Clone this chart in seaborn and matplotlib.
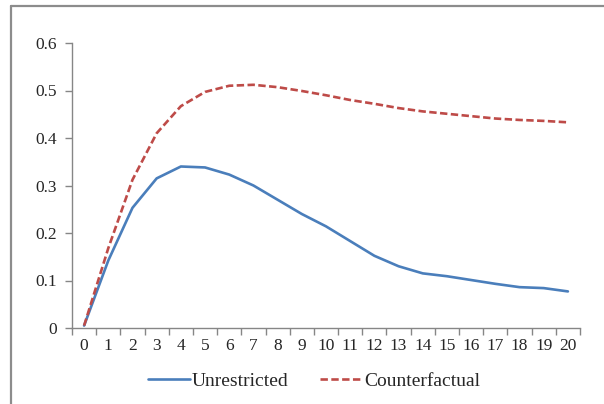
import numpy as np
import pandas as pd
import seaborn as sns
import matplotlib.pyplot as plt
from matplotlib.lines import Line2D

periods = list(range(21))
unrestricted = [0.005, 0.142, 0.253, 0.315, 0.340, 0.338, 0.323, 0.300, 0.270, 0.240,
                0.214, 0.183, 0.152, 0.130, 0.115, 0.109, 0.101, 0.093, 0.086, 0.084, 0.077]
counterfactual = [0.005, 0.168, 0.312, 0.410, 0.467, 0.497, 0.510, 0.512, 0.507, 0.499,
                  0.490, 0.480, 0.472, 0.463, 0.456, 0.451, 0.446, 0.441, 0.438, 0.436, 0.433]
y_ticks = [0, 0.1, 0.2, 0.3, 0.4, 0.5, 0.6]
y_labels = ['0', '0.1', '0.2', '0.3', '0.4', '0.5', '0.6']

df = pd.DataFrame({'period': periods * 2,
                   'value': unrestricted + counterfactual,
                   'series': ['Unrestricted'] * 21 + ['Counterfactual'] * 21})

sns.set_theme(style='white')
plt.rcParams['font.family'] = ['Liberation Serif', 'DejaVu Serif']

fig = plt.figure(figsize=(6.04, 4.04), dpi=100)
ax = fig.add_axes([72 / 604, 1 - 328 / 404, (580 - 72) / 604, (328 - 43) / 404])

sns.lineplot(data=df, x='period', y='value', hue='series', style='series',
             palette={'Unrestricted': '#4A7EBB', 'Counterfactual': '#BE4B48'},
             dashes={'Unrestricted': '', 'Counterfactual': (2.8, 1.3)},
             linewidth=1.9, ax=ax, legend=False)

ax.set_xlim(-0.5, 20.5)
ax.set_ylim(0, 0.6)
ax.set_xlabel('')
ax.set_ylabel('')

# category style axis: ticks between categories, labels under centres
ax.set_xticks(np.arange(-0.5, 21, 1))
ax.set_xticklabels([])
ax.set_xticks(periods, minor=True)
ax.set_xticklabels([str(p) for p in periods], minor=True)
ax.tick_params(axis='x', which='major', direction='out', length=5, width=1, color='#868686', bottom=True)
ax.tick_params(axis='x', which='minor', length=0, pad=7, labelsize=12.5, labelcolor='#262626')
ax.set_yticks(y_ticks)
ax.set_yticklabels(y_labels)
ax.tick_params(axis='y', direction='out', length=5, width=1, color='#868686', left=True,
               pad=6, labelsize=12.5, labelcolor='#262626')

sns.despine(ax=ax)
for s in ['left', 'bottom']:
    ax.spines[s].set_color('#868686')
    ax.spines[s].set_linewidth(1)

handles = [Line2D([], [], color='#4A7EBB', lw=1.9),
           Line2D([], [], color='#BE4B48', lw=1.9, dashes=(2.8, 1.3))]
fig.legend(handles, ['Unrestricted', 'Counterfactual'], loc='center',
           bbox_to_anchor=(314 / 604, 1 - 381 / 404), ncol=2, frameon=False,
           fontsize=14, handlelength=2.15, handletextpad=0.12, columnspacing=1.6,
           labelcolor='#262626')

# outer chart frame (only the left and top edges are visible in the crop)
fig.add_artist(Line2D([11 / 604, 11 / 604], [0, 1 - 6 / 404], color='#8c8c8c', lw=1.6,
                      transform=fig.transFigure))
fig.add_artist(Line2D([11 / 604, 1], [1 - 6 / 404, 1 - 6 / 404], color='#8c8c8c', lw=1.6,
                      transform=fig.transFigure))

fig.savefig('out.png', dpi=100)
